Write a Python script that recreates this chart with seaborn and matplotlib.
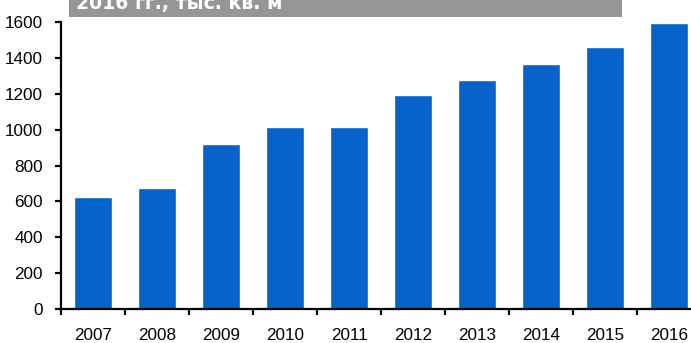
import matplotlib
matplotlib.use("Agg")
import matplotlib.pyplot as plt
import matplotlib.patches as mpatches
from matplotlib.ticker import FixedLocator, NullFormatter
import seaborn as sns
import pandas as pd

# Annual volumes, thousand sq. m
years = ["2007", "2008", "2009", "2010", "2011", "2012", "2013", "2014", "2015", "2016"]
values = [622, 674, 919, 1015, 1014, 1192, 1276, 1365, 1461, 1595]
y_ticks = [0, 200, 400, 600, 800, 1000, 1200, 1400, 1600]
banner_text = "2016 гг., тыс. кв. м"

bar_color = "#0563C9"
banner_color = "#969696"

sns.set_theme(style="white")
plt.rcParams["font.family"] = ["Liberation Sans", "DejaVu Sans"]

W, H = 691, 343
fig = plt.figure(figsize=(W / 100, H / 100), dpi=100)
ax = fig.add_axes([61 / W, 34 / H, 640 / W, 287 / H])

df = pd.DataFrame({"year": years, "value": values})
sns.barplot(data=df, x="year", y="value", color=bar_color, saturation=1,
            width=0.6, ax=ax)

ax.set_xlim(-0.5, len(years) - 0.5)
ax.set_ylim(0, 1600)
ax.set_yticks(y_ticks)
ax.set_xlabel("")
ax.set_ylabel("")

for side in ("top", "right"):
    ax.spines[side].set_visible(False)
for side in ("left", "bottom"):
    ax.spines[side].set_linewidth(1.6)
    ax.spines[side].set_color("black")

# labels sit under the bars, tick marks sit on the category borders
ax.tick_params(axis="x", which="major", length=0, pad=14, labelsize=12.3,
               colors="black")
ax.xaxis.set_minor_locator(FixedLocator([i - 0.5 for i in range(len(years) + 1)]))
ax.xaxis.set_minor_formatter(NullFormatter())
ax.tick_params(axis="x", which="minor", length=4, width=1.6, direction="out",
               bottom=True, color="black")
ax.tick_params(axis="y", length=4, width=1.6, direction="out", left=True,
               pad=9, labelsize=12.3, colors="black")

# heading strip across the top
fig.patches.append(mpatches.Rectangle((69 / W, 1 - 17 / H), (622 - 69) / W, 30 / H,
                                      transform=fig.transFigure,
                                      facecolor=banner_color, edgecolor="none",
                                      zorder=0))
fig.text(76 / W, 1 - 9 / H, banner_text, color="white", fontsize=13.6,
         fontweight="bold", family=["DejaVu Sans"], va="baseline", ha="left")

fig.savefig("out.png", dpi=100)
